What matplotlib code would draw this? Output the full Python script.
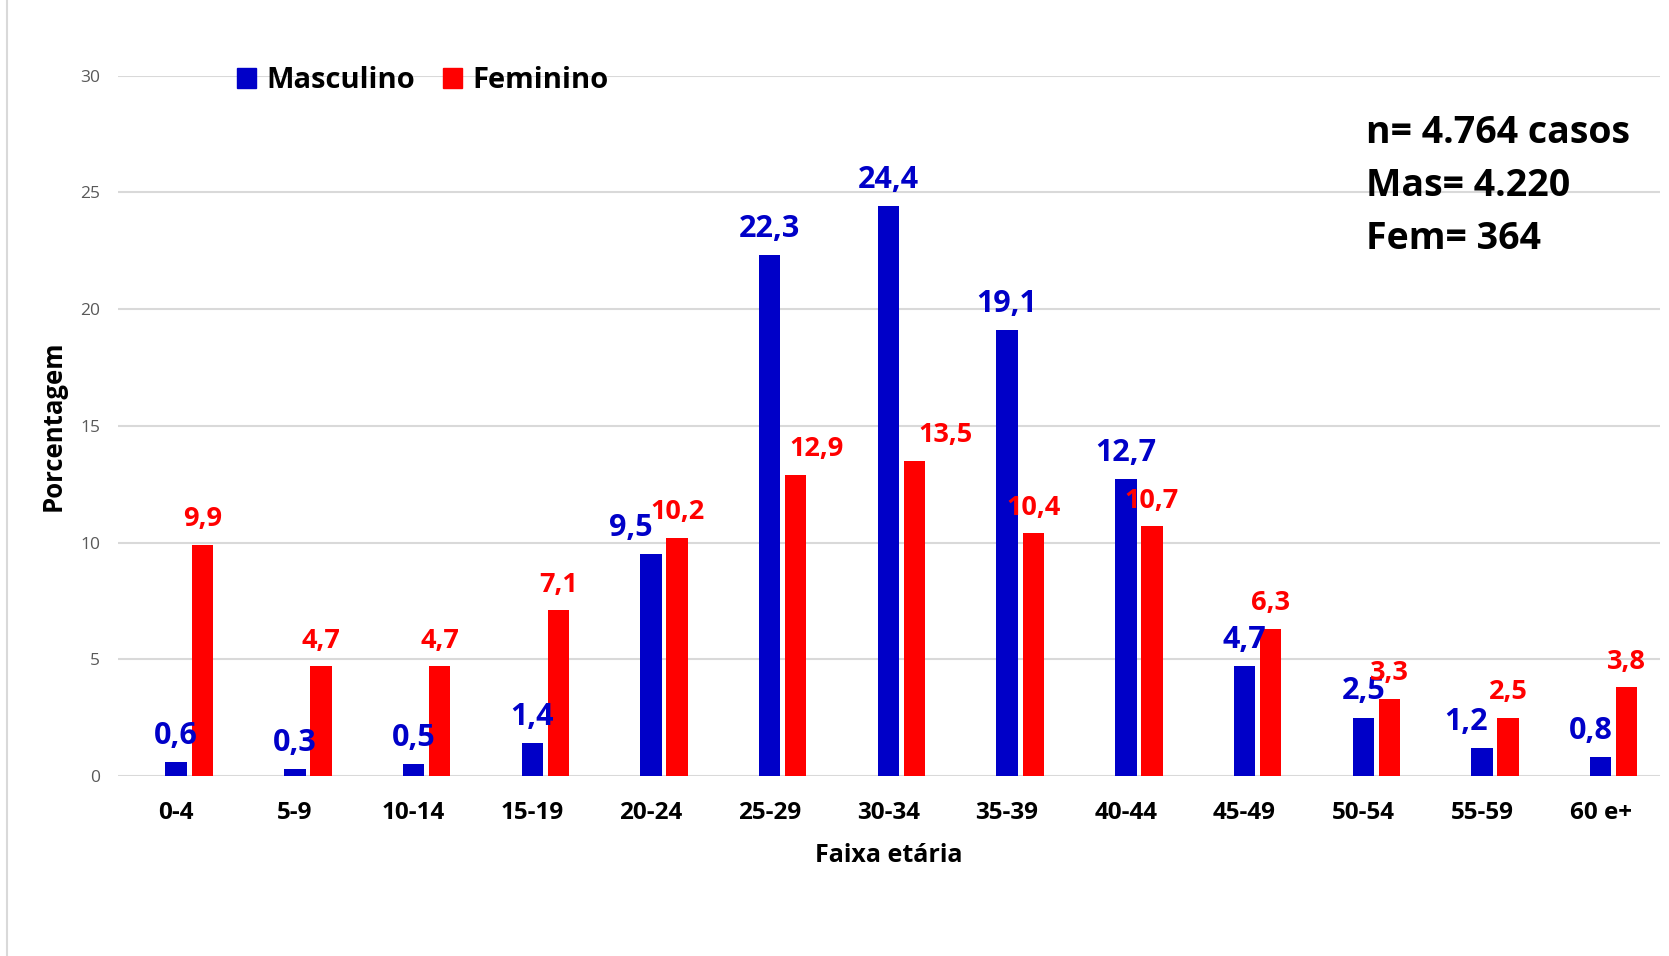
import matplotlib
matplotlib.use("Agg")
import matplotlib.pyplot as plt
from matplotlib.patches import Patch
from matplotlib.lines import Line2D
import numpy as np

plt.rcParams['font.family'] = ['Open Sans', 'DejaVu Sans']

faixas = ['0-4', '5-9', '10-14', '15-19', '20-24', '25-29', '30-34',
          '35-39', '40-44', '45-49', '50-54', '55-59', '60 e+']
masculino = [0.6, 0.3, 0.5, 1.4, 9.5, 22.3, 24.4, 19.1, 12.7, 4.7, 2.5, 1.2, 0.8]
feminino = [9.9, 4.7, 4.7, 7.1, 10.2, 12.9, 13.5, 10.4, 10.7, 6.3, 3.3, 2.5, 3.8]
resumo = ['n= 4.764 casos', 'Mas= 4.220', 'Fem= 364']

azul = '#0000C8'
vermelho = '#FF0000'
cinza = '#D9D9D9'

# hand-moved labels in the original (x shift in points)
shift_m = {4: -14.5, 11: -11.5, 12: -7}
shift_f = {5: 15, 6: 22}

fig = plt.figure(figsize=(16.69, 9.56), dpi=100)
ax = fig.add_axes([118/1669, 1-776/956, (1660-118)/1669, (776-75.6)/956])

x = np.arange(len(faixas))
w = 0.18
off = 0.22
ax.bar(x, masculino, w, color=azul, zorder=3)
ax.bar(x + off, feminino, w, color=vermelho, zorder=3)

for i in range(len(faixas)):
    v = masculino[i]
    ax.annotate(f'{v:.1f}'.replace('.', ','), (x[i], v),
                xytext=(shift_m.get(i, 0), 13.3), textcoords='offset points',
                ha='center', va='baseline', color=azul, fontsize=22,
                fontweight='bold', zorder=4)
    v = feminino[i]
    ax.annotate(f'{v:.1f}'.replace('.', ','), (x[i] + off, v),
                xytext=(shift_f.get(i, 0), 13.3), textcoords='offset points',
                ha='center', va='baseline', color=vermelho, fontsize=19.5,
                fontweight='bold', zorder=4)

ax.set_xlim(-0.49, 12.5)
ax.set_ylim(0, 30)
ax.set_yticks(np.arange(0, 31, 5))
ax.yaxis.grid(True, color=cinza, linewidth=1.5, zorder=0)
for s in ax.spines.values():
    s.set_visible(False)
ax.tick_params(axis='y', length=0, pad=13, labelsize=12.5, labelcolor='#595959')
ax.set_xticks(x)
ax.set_xticklabels(faixas, fontsize=17.5, fontweight='bold')
ax.tick_params(axis='x', length=0, pad=18)

ax.set_xlabel('Faixa etária', fontsize=18, fontweight='bold', va='center')
ax.xaxis.set_label_coords(0.5, -0.113)
ax.set_ylabel('Porcentagem', fontsize=18.5, fontweight='bold', va='center')
ax.yaxis.set_label_coords(-0.042, 0.5)

handles = [Patch(color=azul), Patch(color=vermelho)]
ax.legend(handles, ['Masculino', 'Feminino'], ncol=2, frameon=False,
          loc='center left', bbox_to_anchor=(0.0772, 0.9927),
          borderaxespad=0, borderpad=0, handlelength=0.66, handleheight=0.66,
          handletextpad=0.36, columnspacing=0.93,
          prop={'size': 21, 'weight': 'bold'})

ys = [133, 186.5, 239]
for txt, y in zip(resumo, ys):
    fig.text(1366/1669, 1 - y/956, txt, fontsize=27, fontweight='bold',
             ha='left', va='center')

fig.add_artist(Line2D([7/1669, 7/1669], [0, 1], color=cinza, linewidth=1.5))

fig.savefig('out.png', dpi=100)
